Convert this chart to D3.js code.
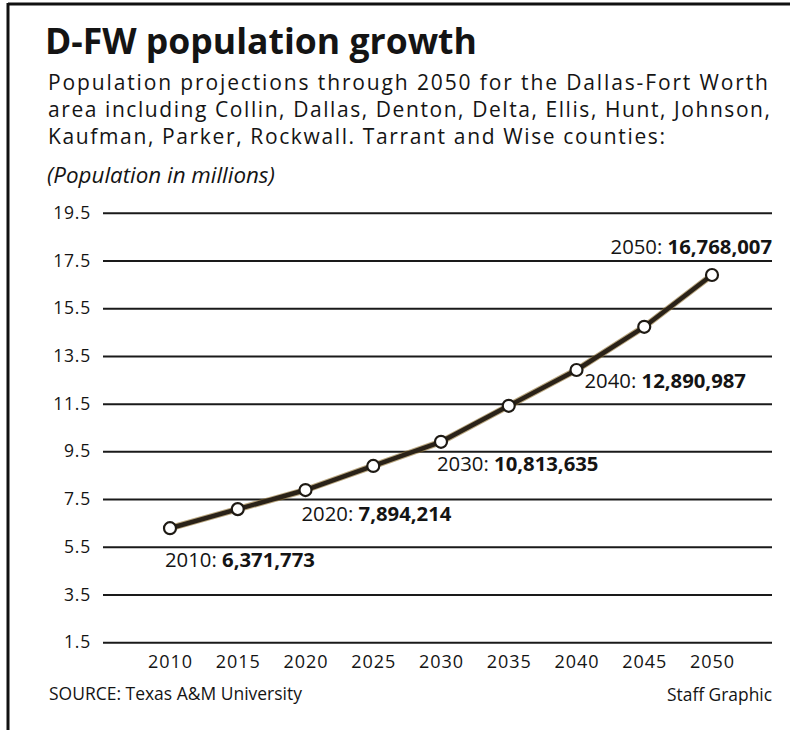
<!DOCTYPE html>
<html>
<head>
<meta charset="utf-8">
<script src="https://cdn.jsdelivr.net/npm/d3@7"></script>
<style>
  html, body { margin: 0; padding: 0; background: #fff; }
  svg { display: block; }
  text { font-family: "Open Sans", "Noto Sans", sans-serif; fill: #141414; }
</style>
</head>
<body>
<svg id="chart" width="790" height="730"></svg>
<script>
// ---- data ----
const years = [2010, 2015, 2020, 2025, 2030, 2035, 2040, 2045, 2050];
const population = [6.28, 7.08, 7.88, 8.89, 9.90, 11.41, 12.91, 14.72, 16.89]; // millions, as plotted
const yTicks = [1.5, 3.5, 5.5, 7.5, 9.5, 11.5, 13.5, 15.5, 17.5, 19.5];
const xTicks = [2010, 2015, 2020, 2025, 2030, 2035, 2040, 2045, 2050];
const labelYears = [2010, 2020, 2030, 2040, 2050];
const labelValues = ["6,371,773", "7,894,214", "10,813,635", "12,890,987", "16,768,007"];

const titleText = "D-FW population growth";
const subtitleLines = [
  "Population projections through 2050 for the Dallas-Fort Worth",
  "area including Collin, Dallas, Denton, Delta, Ellis, Hunt, Johnson,",
  "Kaufman, Parker, Rockwall. Tarrant and Wise counties:"
];
const subtitleWidths = [720, 722, 617];
const unitText = "(Population in millions)";
const sourceText = "SOURCE: Texas A&M University";
const creditText = "Staff Graphic";

// ---- layout ----
const svg = d3.select("#chart");
const x = d3.scaleLinear().domain([2010, 2050]).range([170, 712]);
const y = d3.scaleLinear().domain([1.5, 19.5]).range([642.3, 212.7]);
const gridLeft = 103, gridRight = 772;

function fit(sel, target) {
  const w = sel.node().getComputedTextLength();
  const fs = parseFloat(sel.style("font-size"));
  const ns = fs * target / w;
  sel.style("font-size", ns + "px");
  return ns;
}

// frame (scan border)
svg.append("line").attr("x1", 8).attr("x2", 790).attr("y1", 4).attr("y2", 4)
  .attr("stroke", "#111").attr("stroke-width", 3);
svg.append("line").attr("x1", 8).attr("x2", 8).attr("y1", 3).attr("y2", 730)
  .attr("stroke", "#111").attr("stroke-width", 3);

// title
const title = svg.append("text").attr("x", 45).attr("y", 54)
  .style("font-weight", 700).style("font-size", "28px").text(titleText);
fit(title, 432);

// subtitle
subtitleLines.forEach((t, i) => {
  svg.append("text").attr("x", 48).attr("y", 90 + 27 * i)
    .style("font-size", "21px")
    .attr("textLength", subtitleWidths[i]).attr("lengthAdjust", "spacing")
    .text(t);
});

// unit
const unit = svg.append("text").attr("x", 47).attr("y", 183).style("font-size", "16px")
  .style("font-style", "italic").text(unitText);
fit(unit, 228);

// gridlines + y labels via axis
const yAxis = d3.axisLeft(y).tickValues(yTicks).tickSize(-(gridRight - gridLeft)).tickPadding(12)
  .tickFormat(d3.format(".1f"));
const gy = svg.append("g").attr("transform", `translate(${gridLeft},0)`).call(yAxis);
gy.select(".domain").remove();
gy.selectAll(".tick line").attr("stroke", "#1a1a1a").attr("stroke-width", 2);
gy.selectAll(".tick text").style("font-size", "17.5px").style("letter-spacing", "0.8px")
  .attr("fill", "#141414").style("font-family", "'Open Sans', sans-serif");

// x axis labels
const xAxis = d3.axisBottom(x).tickValues(xTicks).tickSize(0).tickPadding(0).tickFormat(d3.format("d"));
const gx = svg.append("g").attr("transform", `translate(0,${y(1.5)})`).call(xAxis);
gx.select(".domain").remove();
gx.selectAll(".tick text").attr("dy", null).attr("y", 26).style("font-size", "18px")
  .style("letter-spacing", "1px")
  .attr("fill", "#141414").style("font-family", "'Open Sans', sans-serif");

// line
const data = years.map((yr, i) => ({ yr, v: population[i] }));
const line = d3.line().x(d => x(d.yr)).y(d => y(d.v));
svg.append("path").datum(data).attr("d", line).attr("fill", "none")
  .attr("stroke", "#8a6a2a").attr("stroke-width", 6.5).attr("stroke-linejoin", "round").attr("opacity", 0.6);
svg.append("path").datum(data).attr("d", line).attr("fill", "none")
  .attr("stroke", "#2a2218").attr("stroke-width", 4.5).attr("stroke-linejoin", "round");
svg.selectAll("circle.pt").data(data).join("circle").attr("class", "pt")
  .attr("cx", d => x(d.yr)).attr("cy", d => y(d.v)).attr("r", 6)
  .attr("fill", "#fff").attr("stroke", "#1e1a14").attr("stroke-width", 2.2);

// value labels
const offsets = {
  2010: { dx: -5, dy: 38.5, anchor: "start" },
  2020: { dx: -4, dy: 31, anchor: "start" },
  2030: { dx: -4, dy: 29, anchor: "start" },
  2040: { dx: 8, dy: 18.5, anchor: "start" },
  2050: { dx: 60, dy: -20.5, anchor: "end" }
};
let labelSize = 17.5;
labelYears.forEach((yr, i) => {
  const v = population[years.indexOf(yr)];
  const o = offsets[yr];
  const t = svg.append("text").attr("x", x(yr) + o.dx).attr("y", y(v) + o.dy)
    .attr("text-anchor", o.anchor).style("font-size", labelSize + "px");
  t.append("tspan").text(yr + ": ");
  t.append("tspan").style("font-weight", 700).text(labelValues[i]);
  if (i === 0) labelSize = fit(t, 150);
});

// footer
const src = svg.append("text").attr("x", 49).attr("y", 700).style("font-size", "14px").text(sourceText);
fit(src, 253);
const cr = svg.append("text").attr("x", 772).attr("y", 701).attr("text-anchor", "end").style("font-size", "14px").text(creditText);
fit(cr, 105);
</script>
</body>
</html>
